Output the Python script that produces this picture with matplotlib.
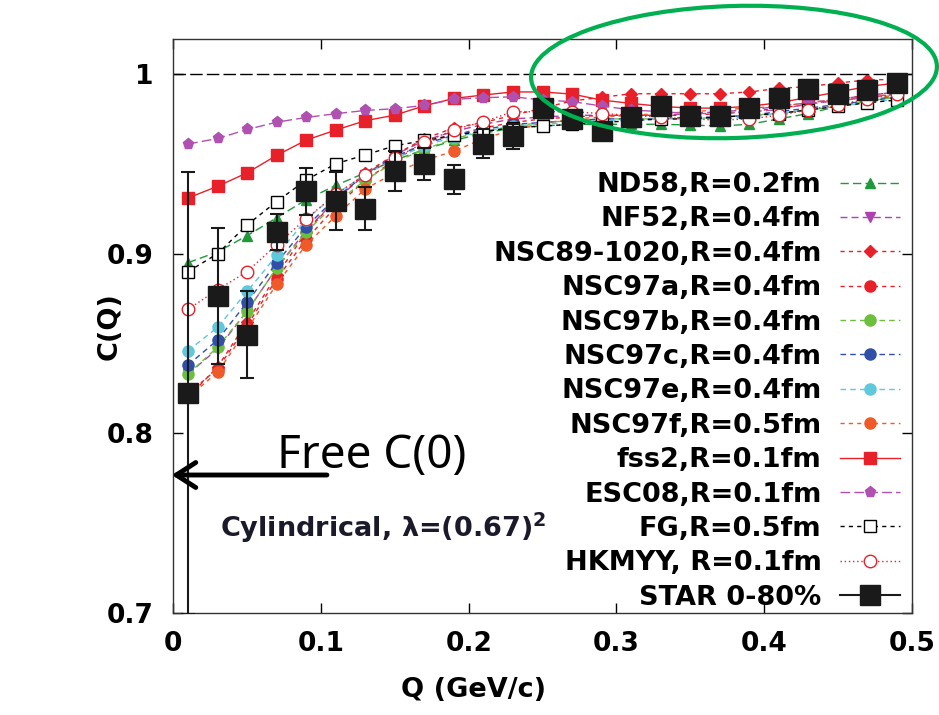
import numpy as np
import matplotlib
matplotlib.use("Agg")
import matplotlib.pyplot as plt
from matplotlib.patches import Ellipse
from matplotlib.lines import Line2D
from matplotlib.transforms import IdentityTransform

plt.rcParams['font.family'] = ['DejaVu Sans']
plt.rcParams['font.weight'] = 'bold'
plt.rcParams['mathtext.fontset'] = 'custom'
plt.rcParams['mathtext.bf'] = 'DejaVu Sans:bold'

Q = [0.01, 0.03, 0.05, 0.07, 0.09, 0.11, 0.13, 0.15, 0.17, 0.19, 0.21, 0.23, 0.25,
     0.27, 0.29, 0.31, 0.33, 0.35, 0.37, 0.39, 0.41, 0.43, 0.45, 0.47, 0.49]

nd58 = [0.895, 0.901, 0.910, 0.920, 0.930, 0.938, 0.945, 0.952, 0.958, 0.963, 0.967, 0.970, 0.971,
        0.972, 0.972, 0.972, 0.972, 0.9716, 0.971, 0.972, 0.975, 0.978, 0.982, 0.985, 0.988]
nf52 = [0.833, 0.847, 0.868, 0.892, 0.913, 0.930, 0.944, 0.955, 0.963, 0.968, 0.972, 0.975, 0.976,
        0.977, 0.977, 0.977, 0.977, 0.978, 0.979, 0.980, 0.982, 0.984, 0.986, 0.988, 0.990]
nsc89 = [0.820, 0.837, 0.862, 0.888, 0.912, 0.930, 0.945, 0.955, 0.964, 0.970, 0.973, 0.977, 0.981,
         0.985, 0.987, 0.989, 0.989, 0.989, 0.989, 0.990, 0.992, 0.993, 0.995, 0.9967, 0.997]
nsc97a = [0.822, 0.836, 0.860, 0.886, 0.908, 0.926, 0.941, 0.952, 0.962, 0.966, 0.970, 0.973, 0.975,
          0.976, 0.977, 0.977, 0.977, 0.977, 0.978, 0.979, 0.981, 0.983, 0.986, 0.988, 0.990]
nsc97b = [0.833, 0.848, 0.868, 0.892, 0.912, 0.928, 0.941, 0.951, 0.958, 0.964, 0.968, 0.971, 0.973,
          0.974, 0.975, 0.975, 0.975, 0.975, 0.976, 0.977, 0.978, 0.980, 0.982, 0.985, 0.987]
nsc97c = [0.838, 0.852, 0.873, 0.895, 0.915, 0.931, 0.944, 0.954, 0.961, 0.966, 0.969, 0.972, 0.973,
          0.974, 0.975, 0.975, 0.975, 0.976, 0.976, 0.977, 0.979, 0.981, 0.983, 0.985, 0.987]
nsc97e = [0.846, 0.859, 0.879, 0.899, 0.919, 0.933, 0.944, 0.953, 0.960, 0.965, 0.968, 0.971, 0.972,
          0.973, 0.974, 0.974, 0.975, 0.975, 0.975, 0.976, 0.978, 0.980, 0.982, 0.984, 0.986]
nsc97f = [0.820, 0.834, 0.858, 0.883, 0.905, 0.921, 0.936, 0.945, 0.952, 0.957, 0.964, 0.969, 0.9725,
          0.975, 0.976, 0.977, 0.978, 0.979, 0.980, 0.981, 0.982, 0.984, 0.986, 0.987, 0.988]
fss2 = [0.931, 0.9375, 0.945, 0.9547, 0.9632, 0.9688, 0.974, 0.9771, 0.9823, 0.9864, 0.9883, 0.990, 0.990,
        0.9888, 0.9855, 0.9836, 0.982, 0.981, 0.981, 0.982, 0.984, 0.987, 0.990, 0.993, 0.995]
esc08 = [0.961, 0.9641, 0.9691, 0.9732, 0.9758, 0.9779, 0.9797, 0.9807, 0.9825, 0.9859, 0.9868, 0.9873, 0.9855,
         0.9846, 0.9822, 0.980, 0.979, 0.978, 0.978, 0.979, 0.980, 0.9836, 0.985, 0.987, 0.989]
fg = [0.890, 0.900, 0.916, 0.929, 0.941, 0.950, 0.955, 0.960, 0.963, 0.966, 0.968, 0.970, 0.971,
      0.972, 0.973, 0.974, 0.975, 0.975, 0.976, 0.977, 0.978, 0.980, 0.982, 0.984, 0.9855]
hkmyy = [0.869, 0.880, 0.890, 0.905, 0.9195, 0.933, 0.944, 0.953, 0.962, 0.969, 0.9734, 0.979, 0.979,
         0.979, 0.978, 0.977, 0.976, 0.975, 0.9743, 0.975, 0.977, 0.980, 0.983, 0.986, 0.989]
star = [0.8223, 0.8764, 0.855, 0.912, 0.9347, 0.9292, 0.925, 0.946, 0.950, 0.9413, 0.9613, 0.9654, 0.9809,
        0.975, 0.9683, 0.976, 0.9822, 0.9768, 0.9768, 0.9812, 0.9867, 0.9915, 0.989, 0.991, 0.9952]
star_err = [0.123, 0.038, 0.024, 0.010, 0.013, 0.016, 0.012, 0.011, 0.009, 0.008, 0.008, 0.007, 0.005,
            0.005, 0.005, 0.005, 0.004, 0.003, 0.003, 0.003, 0.003, 0.003, 0.003, 0.003, 0.003]

labels = ["ND58,R=0.2fm", "NF52,R=0.4fm", "NSC89-1020,R=0.4fm", "NSC97a,R=0.4fm",
          "NSC97b,R=0.4fm", "NSC97c,R=0.4fm", "NSC97e,R=0.4fm", "NSC97f,R=0.5fm",
          "fss2,R=0.1fm", "ESC08,R=0.1fm", "FG,R=0.5fm", "HKMYY, R=0.1fm", "STAR 0-80%"]

fig = plt.figure(figsize=(9.39, 7.15), dpi=100)
ax = fig.add_axes([173.3/939, 1-613/715, (911.8-173.3)/939, (613-39.3)/715])

red = '#e8202a'
styles = [
    (nd58, dict(color='#1f9a3a', ls=(0, (6, 3)), marker='^', ms=7)),
    (nf52, dict(color='#b040b0', ls=(0, (5, 3)), marker='v', ms=7)),
    (nsc89, dict(color=red, ls=(0, (3, 3)), marker='D', ms=6)),
    (nsc97a, dict(color=red, ls=(0, (3, 3)), marker='o', ms=8)),
    (nsc97b, dict(color='#6cbf3c', ls=(0, (4, 3)), marker='o', ms=8)),
    (nsc97c, dict(color='#2f4fa8', ls=(0, (4, 3)), marker='o', ms=8)),
    (nsc97e, dict(color='#5ec8dc', ls=(0, (4, 3)), marker='o', ms=8)),
    (nsc97f, dict(color='#f05a28', ls=(0, (3, 3)), marker='o', ms=8)),
    (fss2, dict(color=red, ls='-', marker='s', ms=8)),
    (esc08, dict(color='#b050b0', ls=(0, (7, 3)), marker='p', ms=8)),
    (fg, dict(color='black', ls=(0, (3, 3)), marker='s', ms=8, mfc='white')),
    (hkmyy, dict(color=red, ls=(0, (1, 2)), marker='o', ms=9, mfc='white')),
]
handles = []
for (vals, st), lab in zip(styles, labels[:-1]):
    h, = ax.plot(Q, vals, lw=1.0, label=lab, **st)
    handles.append(h)

eb = ax.errorbar(Q, star, yerr=star_err, fmt='s', color='#1a1a1a', ms=15, ecolor='#1a1a1a',
                 elinewidth=1.5, capsize=5, capthick=1.5, zorder=10, label=labels[-1])
handles.append(Line2D([], [], color='#1a1a1a', lw=1.5, marker='s', ms=15))

ax.axhline(1.0, color='black', lw=1.0, ls=(0, (9, 3)))

ax.set_xlim(0, 0.5)
ax.set_ylim(0.7, 1.0193)
ax.set_xticks([0, 0.1, 0.2, 0.3, 0.4, 0.5])
ax.set_xticklabels(['0', '0.1', '0.2', '0.3', '0.4', '0.5'])
ax.set_yticks([0.7, 0.8, 0.9, 1.0])
ax.set_yticklabels(['0.7', '0.8', '0.9', '1'])
ax.tick_params(direction='in', length=7, width=1, top=True, right=True,
               labelsize=19, pad=14)
ax.tick_params(axis='x', pad=13)
for s in ax.spines.values():
    s.set_linewidth(1.0)
    s.set_color('#333333')

ax.set_xlabel('Q (GeV/c)', fontsize=19.5, fontweight='bold')
ax.set_ylabel('C(Q)', fontsize=19.5, fontweight='bold')
ax.xaxis.set_label_coords(0.407, -0.112)
ax.yaxis.set_label_coords(-0.069, 0.5)

leg = ax.legend(handles, labels, loc='upper right', bbox_to_anchor=(900/939, 1-172/715),
                bbox_transform=fig.transFigure, frameon=False, markerfirst=False,
                prop=dict(size=19.5, weight='bold'), handlelength=2.2, handletextpad=0.7,
                labelspacing=0.31, borderpad=0, borderaxespad=0)
leg.set_zorder(20)

ax.annotate('', xy=(-0.001, 0.7768), xytext=(0.104, 0.7768), xycoords='data',
            arrowprops=dict(arrowstyle='->,head_length=0.7,head_width=0.45', lw=3.5,
                            color='black', mutation_scale=20, shrinkA=0, shrinkB=0),
            annotation_clip=False, zorder=15)
fig.text(277/939, 1-468/715, 'Free C(0)', family='Noto Sans', fontweight='normal',
         fontsize=33, va='baseline', ha='left')
fig.text(220/939, 1-537/715, r'Cylindrical, λ=(0.67)$^{\mathbf{2}}$', fontsize=19.5,
         fontweight='bold', va='baseline', ha='left', color='#1a1a2a')

ell = Ellipse((734, 715-72), 406, 132, angle=1.7, transform=IdentityTransform(),
              fill=False, edgecolor='#00b050', lw=3.0, zorder=30)
fig.patches.append(ell)

fig.savefig('out.png', dpi=100)
